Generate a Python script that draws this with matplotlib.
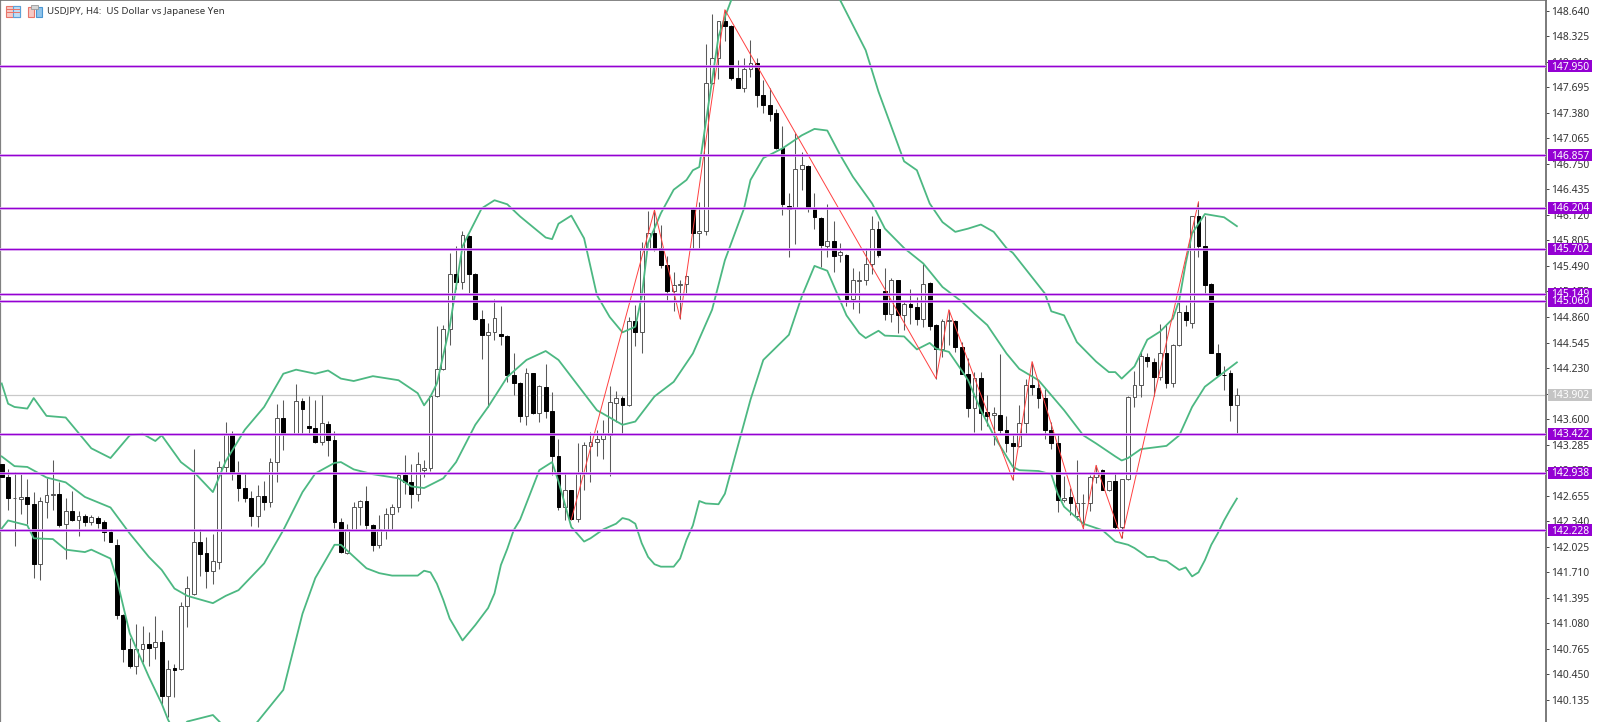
import matplotlib
matplotlib.use("Agg")
import matplotlib.pyplot as plt
from matplotlib.patches import Rectangle
import numpy as np

nan = float("nan")

# H4 candles (index 45 is not visible in the screenshot)
opens = [
    143.05, 142.89, 142.63, 142.62, 142.64, 142.55, 141.81, 142.58, 142.67, 142.68,
    142.31, 142.47, 142.35, 142.40, 142.33, 142.38, 142.33, 142.21, 142.05, 141.19,
    140.76, 140.56, 140.77, 140.83, 140.79, 140.85, 140.19, 140.53, 140.52, 141.29,
    141.44, 142.08, 141.95, 141.73, 141.84, 143.01, 143.42, 142.93, 142.75, 142.63,
    142.40, 142.65, 142.58, 143.07, 143.62, nan, 143.42, 143.82, 143.52, 143.49,
    143.32, 143.54, 143.34, 142.33, 141.95, 142.23, 142.52, 142.59, 142.30, 142.05,
    142.23, 142.43, 142.51, 142.91, 142.82, 142.68, 142.97, 143.00, 143.88, 144.22,
    144.71, 145.39, 145.29, 145.86, 145.39, 144.83, 144.64, 144.67, 144.65, 144.63,
    144.14, 144.05, 143.64, 144.17, 143.68, 144.00, 143.70, 143.14, 142.51, 142.73,
    142.37, 142.94, 143.27, 143.32, 143.35, 143.41, 143.80, 143.86, 143.77, 144.81,
    144.68, 145.71, 145.89, 145.71, 145.50, 145.18, 145.25, 145.27, 146.20, 145.90,
    145.92, 147.75, 148.05, 148.51, 148.45, 147.81, 147.69, 147.92, 147.99, 147.60,
    147.47, 147.37, 146.94, 146.23, 146.20, 146.69, 146.72, 146.20, 146.08, 145.74,
    145.80, 145.62, 145.63, 145.08, 145.30, 145.31, 145.51, 145.94, 145.18, 144.90,
    145.32, 144.88, 145.02, 144.98, 144.84, 145.28, 144.76, 144.47, 144.81, 144.81,
    144.49, 144.16, 143.74, 144.11, 143.69, 143.65, 143.65, 143.47, 143.30, 143.27,
    143.55, 144.02, 143.99, 143.86, 143.47, 143.31, 142.60, 142.64, 142.40, 142.56,
    142.56, 142.89, 142.97, 142.72, 142.84, 142.27, 142.86, 143.87, 144.02, 144.37,
    144.30, 144.12, 144.42, 144.04, 144.51, 144.92, 144.78, 146.10, 145.74, 145.27,
    144.42, 144.15, 144.17, 143.77,
]
highs = [
    143.05, 142.99, 142.95, 142.92, 142.86, 142.70, 142.64, 142.87, 143.09, 142.83,
    142.63, 142.71, 142.47, 142.43, 142.42, 142.40, 142.36, 142.25, 142.12, 141.20,
    140.90, 141.07, 141.05, 140.98, 141.17, 141.00, 140.63, 140.58, 141.34, 141.66,
    143.23, 142.25, 142.15, 142.18, 143.08, 143.57, 143.45, 143.08, 142.95, 142.71,
    142.79, 142.84, 143.12, 143.79, 143.84, nan, 144.03, 143.86, 143.88, 143.83,
    143.90, 143.58, 143.45, 142.38, 142.31, 142.58, 142.60, 142.77, 142.31, 142.42,
    142.50, 142.55, 142.93, 143.16, 143.05, 143.20, 143.09, 143.90, 144.75, 144.76,
    145.65, 145.73, 145.92, 145.87, 145.40, 144.95, 144.79, 145.08, 144.99, 144.64,
    144.42, 144.06, 144.23, 144.17, 144.02, 144.28, 143.93, 143.35, 142.93, 142.73,
    143.31, 143.32, 143.44, 143.46, 143.59, 144.01, 143.95, 143.88, 144.86, 145.01,
    145.79, 146.17, 146.17, 145.99, 145.61, 145.41, 145.32, 145.38, 146.22, 146.28,
    148.23, 148.60, 148.51, 148.65, 148.46, 148.03, 148.06, 148.28, 148.06, 147.78,
    147.68, 147.42, 147.22, 146.39, 147.13, 146.90, 146.73, 146.39, 146.09, 146.25,
    146.04, 145.77, 145.64, 145.46, 145.43, 145.71, 146.11, 146.04, 145.47, 145.34,
    145.32, 145.06, 145.21, 145.11, 145.51, 145.29, 144.77, 144.83, 144.95, 144.82,
    144.55, 144.35, 144.18, 144.18, 143.90, 143.75, 144.40, 143.64, 143.42, 143.77,
    144.10, 144.31, 144.08, 143.97, 143.57, 143.42, 142.90, 142.75, 143.09, 142.68,
    142.91, 143.03, 142.98, 142.84, 142.93, 142.86, 143.88, 144.19, 144.44, 144.41,
    144.35, 144.77, 144.76, 144.53, 145.05, 145.01, 146.11, 146.28, 146.10, 145.28,
    144.53, 144.26, 144.20, 143.99,
]
lows = [
    142.89, 142.48, 142.03, 142.43, 142.31, 141.64, 141.62, 142.38, 142.48, 142.27,
    141.88, 142.34, 142.16, 142.28, 142.29, 142.26, 142.10, 142.08, 141.13, 140.61,
    140.53, 140.46, 140.61, 140.55, 140.64, 140.09, 139.93, 140.17, 140.50, 141.04,
    141.43, 141.66, 141.52, 141.57, 141.75, 142.93, 142.85, 142.59, 142.58, 142.28,
    142.27, 142.48, 142.52, 142.83, 143.22, nan, 143.42, 143.42, 143.42, 143.31,
    143.28, 143.14, 142.26, 141.95, 141.94, 142.23, 142.29, 142.23, 141.97, 142.01,
    142.12, 142.23, 142.45, 142.68, 142.50, 142.59, 142.88, 142.96, 143.87, 144.21,
    144.51, 145.21, 145.21, 145.15, 144.82, 144.34, 143.75, 144.58, 144.51, 144.06,
    143.90, 143.56, 143.53, 143.66, 143.56, 143.61, 142.91, 142.48, 142.35, 142.36,
    142.33, 142.73, 142.83, 143.15, 143.11, 142.90, 143.57, 143.42, 143.76, 144.50,
    144.42, 145.69, 145.67, 145.46, 145.07, 144.93, 144.84, 145.15, 145.71, 145.71,
    145.87, 147.74, 147.80, 148.26, 147.78, 147.68, 147.64, 147.82, 147.45, 147.37,
    147.28, 146.93, 146.12, 145.60, 145.76, 146.43, 146.16, 145.94, 145.48, 145.60,
    145.41, 145.54, 144.99, 144.96, 144.91, 145.25, 145.39, 145.60, 144.82, 144.80,
    144.66, 144.70, 144.77, 144.76, 144.74, 144.70, 144.10, 144.37, 144.51, 144.43,
    144.16, 143.63, 143.44, 143.47, 143.51, 143.28, 143.42, 143.19, 142.85, 143.26,
    143.42, 143.90, 143.74, 143.35, 143.23, 142.45, 142.58, 142.42, 142.36, 142.25,
    142.47, 142.81, 142.72, 142.71, 142.24, 142.13, 142.85, 143.75, 143.87, 144.24,
    143.88, 144.08, 143.99, 144.00, 144.50, 144.75, 144.72, 145.60, 145.14, 144.41,
    144.13, 143.96, 143.58, 143.42,
]
closes = [
    142.89, 142.63, 142.63, 142.64, 142.55, 141.81, 142.59, 142.67, 142.68, 142.30,
    142.47, 142.35, 142.40, 142.33, 142.39, 142.32, 142.21, 142.08, 141.18, 140.76,
    140.56, 140.77, 140.83, 140.78, 140.85, 140.19, 140.52, 140.51, 141.30, 141.52,
    142.09, 141.94, 141.73, 141.85, 143.01, 143.42, 142.93, 142.75, 142.63, 142.40,
    142.65, 142.58, 143.07, 143.62, 143.43, nan, 143.82, 143.72, 143.49, 143.32,
    143.55, 143.34, 142.33, 141.96, 142.24, 142.52, 142.59, 142.30, 142.05, 142.24,
    142.43, 142.51, 142.91, 142.82, 142.68, 143.05, 143.00, 143.88, 144.22, 144.71,
    145.39, 145.29, 145.87, 145.39, 144.83, 144.64, 144.67, 144.85, 144.63, 144.14,
    144.05, 143.64, 144.17, 143.67, 144.01, 143.70, 143.14, 142.51, 142.73, 142.37,
    142.94, 143.28, 143.32, 143.35, 143.42, 143.81, 143.86, 143.77, 144.81, 144.68,
    145.71, 145.90, 145.71, 145.50, 145.18, 145.25, 145.27, 145.37, 145.90, 145.92,
    147.75, 148.05, 148.51, 148.45, 147.81, 147.69, 147.92, 147.99, 147.60, 147.47,
    147.36, 146.94, 146.25, 146.19, 146.69, 146.74, 146.21, 146.09, 145.75, 145.80,
    145.61, 145.66, 145.08, 145.31, 145.31, 145.51, 145.94, 145.62, 144.90, 145.31,
    144.88, 145.02, 144.98, 144.83, 145.27, 144.75, 144.47, 144.81, 144.82, 144.49,
    144.16, 143.74, 144.11, 143.68, 143.64, 143.67, 143.47, 143.30, 143.27, 143.55,
    144.02, 144.00, 143.86, 143.47, 143.31, 142.60, 142.63, 142.56, 142.56, 142.56,
    142.89, 142.94, 142.73, 142.84, 142.27, 142.86, 143.87, 144.02, 144.38, 144.32,
    144.12, 144.42, 144.04, 144.52, 144.92, 144.82, 146.10, 145.74, 145.26, 144.42,
    144.14, 144.14, 143.77, 143.90,
]

# bollinger bands, sampled every few bars
upper_idx = [0, 1, 2, 4, 5, 7, 10, 12, 14, 17, 20, 22, 24, 25, 28, 30, 33, 35, 38, 41, 44, 46, 49, 51, 53, 55, 58,
             62, 65, 66, 67, 68, 70, 72, 73, 75, 77, 79, 81, 83, 85, 86, 87, 89, 91, 92, 93, 95, 97, 99, 100, 101,
             103, 105, 107, 108, 109, 110, 111, 112, 113, 114, 116, 120, 125, 129, 131, 133, 135, 137, 139, 141,
             143, 145, 147, 149, 151, 153, 155, 157, 158, 163, 164, 166, 168, 171, 173, 174, 175, 177, 179, 181,
             183, 184, 185, 186, 188, 191, 193]
upper_val = [144.04, 143.79, 143.75, 143.73, 143.86, 143.64, 143.62, 143.43, 143.24, 143.12, 143.40, 143.42, 143.33,
             143.40, 143.07, 142.95, 142.70, 143.08, 143.47, 143.75, 144.16, 144.21, 144.16, 144.20, 144.10, 144.07,
             144.13, 144.08, 143.92, 143.77, 143.88, 144.04, 144.74, 145.73, 145.89, 146.20, 146.30, 146.25, 146.10,
             145.97, 145.84, 145.82, 146.01, 146.11, 145.83, 145.48, 145.13, 144.86, 144.67, 144.74, 145.11, 145.77,
             146.14, 146.43, 146.55, 146.67, 146.71, 147.25, 147.78, 148.32, 148.56, 148.77, 149.20, 149.80, 149.80,
             149.20, 148.77, 148.46, 148.15, 147.64, 147.21, 146.78, 146.67, 146.26, 146.03, 145.91, 145.95, 146.00,
             145.91, 145.71, 145.65, 145.15, 144.93, 144.88, 144.55, 144.31, 144.18, 144.18, 144.10, 144.25, 144.58,
             144.68, 144.84, 145.07, 145.52, 145.89, 146.13, 146.09, 145.98]

middle_idx = [0, 2, 4, 7, 10, 13, 17, 20, 23, 25, 27, 29, 33, 35, 37, 41, 44, 47, 49, 52, 53, 55, 58, 62, 64, 66, 69,
              71, 74, 76, 79, 82, 85, 87, 90, 93, 97, 99, 102, 105, 108, 111, 113, 116, 117, 119, 122, 125, 127,
              129, 131, 133, 136, 138, 141, 144, 147, 150, 152, 154, 157, 159, 162, 166, 169, 171, 174, 175, 176,
              178, 182, 184, 186, 188, 190, 193]
middle_val = [143.14, 143.02, 143.01, 142.88, 142.82, 142.64, 142.51, 142.19, 141.90, 141.74, 141.51, 141.42, 141.33,
              141.42, 141.49, 141.82, 142.23, 142.70, 142.93, 143.06, 143.07, 142.98, 142.92, 142.87, 142.77, 142.75,
              142.87, 143.07, 143.53, 143.75, 144.12, 144.33, 144.44, 144.33, 144.02, 143.71, 143.53, 143.57, 143.88,
              144.06, 144.41, 144.95, 145.56, 146.20, 146.55, 146.82, 146.94, 147.10, 147.18, 147.16, 146.86, 146.59,
              146.26, 145.95, 145.71, 145.52, 145.23, 145.05, 144.90, 144.76, 144.41, 144.22, 144.08, 143.71, 143.40,
              143.30, 143.14, 143.09, 143.12, 143.23, 143.27, 143.40, 143.75, 144.00, 144.12, 144.30]

lower_idx = [0, 1, 4, 5, 8, 10, 13, 14, 17, 18, 20, 23, 25, 26, 27, 28, 29, 33, 34, 36, 38, 40, 44, 47, 49, 52, 53,
             57, 59, 61, 65, 66, 67, 68, 69, 70, 72, 74, 76, 77, 78, 79, 80, 81, 84, 86, 87, 89, 91, 92, 94, 96, 97,
             98, 99, 100, 101, 102, 103, 105, 106, 107, 108, 109, 110, 112, 113, 117, 119, 123, 125, 127, 129, 132,
             134, 135, 137, 138, 141, 143, 145, 146, 148, 150, 151, 153, 155, 158, 159, 162, 164, 165, 166, 169,
             172, 174, 176, 177, 179, 180, 181, 182, 184, 185, 186, 187, 188, 189, 190, 191, 192, 193]
lower_val = [142.25, 142.35, 142.29, 142.13, 142.12, 141.99, 141.96, 141.99, 141.88, 141.62, 140.96, 140.42, 140.09,
             139.89, 139.75, 139.78, 139.87, 139.95, 139.87, 139.70, 139.70, 139.87, 140.26, 141.20, 141.64, 142.05,
             142.05, 141.76, 141.70, 141.67, 141.67, 141.73, 141.71, 141.57, 141.37, 141.14, 140.87, 141.06, 141.27,
             141.45, 141.80, 142.00, 142.23, 142.36, 142.97, 143.07, 142.83, 142.27, 142.09, 142.13, 142.24, 142.31,
             142.38, 142.36, 142.31, 142.07, 141.90, 141.81, 141.78, 141.78, 141.88, 142.11, 142.29, 142.59, 142.56,
             142.55, 142.68, 143.84, 144.33, 144.64, 145.11, 145.49, 145.43, 144.88, 144.66, 144.60, 144.69, 144.63,
             144.62, 144.46, 144.54, 144.47, 144.43, 144.20, 144.08, 143.71, 143.40, 143.01, 142.97, 142.96, 142.92,
             142.68, 142.52, 142.31, 142.23, 142.09, 142.05, 142.01, 141.90, 141.90, 141.86, 141.85, 141.74, 141.77,
             141.66, 141.71, 141.86, 142.05, 142.19, 142.35, 142.49, 142.62]

zigzag_idx = [89, 102, 106, 113, 146, 148, 158, 161, 169, 171, 175, 187]
zigzag_val = [142.36, 146.18, 144.84, 148.65, 144.10, 144.95, 142.85, 144.31, 142.25, 143.03, 142.13, 146.28]

levels = [147.950, 146.857, 146.204, 145.702, 145.149, 145.060, 143.422, 142.938, 142.228]
last_price = 143.902
tick_values = [148.640, 148.325, 148.010, 147.695, 147.380, 147.065, 146.750, 146.435, 146.120, 145.805, 145.490,
               145.175, 144.860, 144.545, 144.230, 143.915, 143.600, 143.285, 142.970, 142.655, 142.340, 142.025,
               141.710, 141.395, 141.080, 140.765, 140.450, 140.135]
title_text = "USDJPY, H4:  US Dollar vs Japanese Yen"

W, H = 1601, 722
AXIS_X = 1546
FONT = "Noto Sans"
GREEN = "#4CB882"
PURPLE = "#9400D3"

fig = plt.figure(figsize=(W / 100, H / 100), dpi=100, facecolor="white")
ax = fig.add_axes([0, 0, AXIS_X / W, 1])
ax.set_xlim(-0.266, 241.3)
ax.set_ylim(139.864, 148.77)

o, h, l, c = map(np.array, (opens, highs, lows, closes))
x = np.arange(len(o))
up = c >= o
top = np.maximum(o, c)
bot = np.minimum(o, c)

ax.axhline(last_price, color="#c9c9c9", lw=0.9, zorder=1)

ax.vlines(x, l, h, color="#5a5a5a", lw=0.75, zorder=2)
ax.bar(x[up], (top - bot)[up], bottom=bot[up], width=0.6, color="white", edgecolor="#555555", lw=0.7, zorder=3)
ax.bar(x[~up], (top - bot)[~up], bottom=bot[~up], width=0.6, color="black", edgecolor="black", lw=0.7, zorder=3)

ax.plot(upper_idx, upper_val, color=GREEN, lw=1.3, zorder=4)
ax.plot(middle_idx, middle_val, color=GREEN, lw=1.3, zorder=4)
ax.plot(lower_idx, lower_val, color=GREEN, lw=1.3, zorder=4)

ax.plot(zigzag_idx, zigzag_val, color="#FF4040", lw=0.7, zorder=5)

for lv in levels:
    ax.axhline(lv, color="#E3BDF3", lw=1.9, zorder=5.5)
    ax.axhline(lv, color=PURPLE, lw=0.95, zorder=6)

# right hand scale
ax.yaxis.tick_right()
ax.set_yticks(tick_values)
ax.set_yticklabels([f"{t:.3f}" for t in tick_values], fontsize=7.4, family=FONT, color="#333333")
ax.tick_params(axis="y", length=2.4, width=0.7, color="#444444", pad=1.5)
ax.set_xticks([])
for name, colr, lw in (("right", "#707070", 1.3), ("left", "#808080", 1.6), ("top", "#707070", 1.2)):
    ax.spines[name].set_color(colr)
    ax.spines[name].set_linewidth(lw)
ax.spines["bottom"].set_visible(False)

# price tags over the scale
trans = ax.get_yaxis_transform()
for lv, colr, txt_col in [(v, PURPLE, "white") for v in levels] + [(last_price, "#c4c4c4", "white")]:
    ax.add_patch(Rectangle((1.0012, lv - 0.074), 44 / AXIS_X, 0.148, transform=trans, facecolor=colr,
                           edgecolor="none", clip_on=False, zorder=8))
    ax.text(1.0012 + 22 / AXIS_X, lv - 0.012, f"{lv:.3f}", transform=trans, ha="center", va="center",
            fontsize=7.4, family=FONT, color=txt_col, clip_on=False, zorder=9)

# title and the two little toolbar icons
fig.text(47 / W, 1 - 11.5 / H, title_text, fontsize=7.0, family=FONT, color="#333333", va="center")


def icon_rect(px, py, pw, ph, **kw):
    fig.add_artist(Rectangle((px / W, 1 - (py + ph) / H), pw / W, ph / H, transform=fig.transFigure, **kw))


icon_rect(5.5, 6, 14.5, 11, facecolor="#F7C9C4", edgecolor="#E8756A", lw=0.8)
icon_rect(13, 6, 7, 11, facecolor="#BFDDF4", edgecolor="#5AA2DA", lw=0.8)
for py in (9, 12, 14.5):
    icon_rect(6, py, 13.5, 0.8, facecolor="#E8756A", edgecolor="none")
icon_rect(27.5, 7, 6, 10, facecolor="#F7C9C4", edgecolor="#E8756A", lw=0.8)
icon_rect(36, 7, 6, 10, facecolor="#8FC3EA", edgecolor="#4A96D2", lw=0.8)
icon_rect(31, 5, 7, 4, facecolor="#D5D5D5", edgecolor="#999999", lw=0.6)

fig.savefig("out.png", dpi=100)
